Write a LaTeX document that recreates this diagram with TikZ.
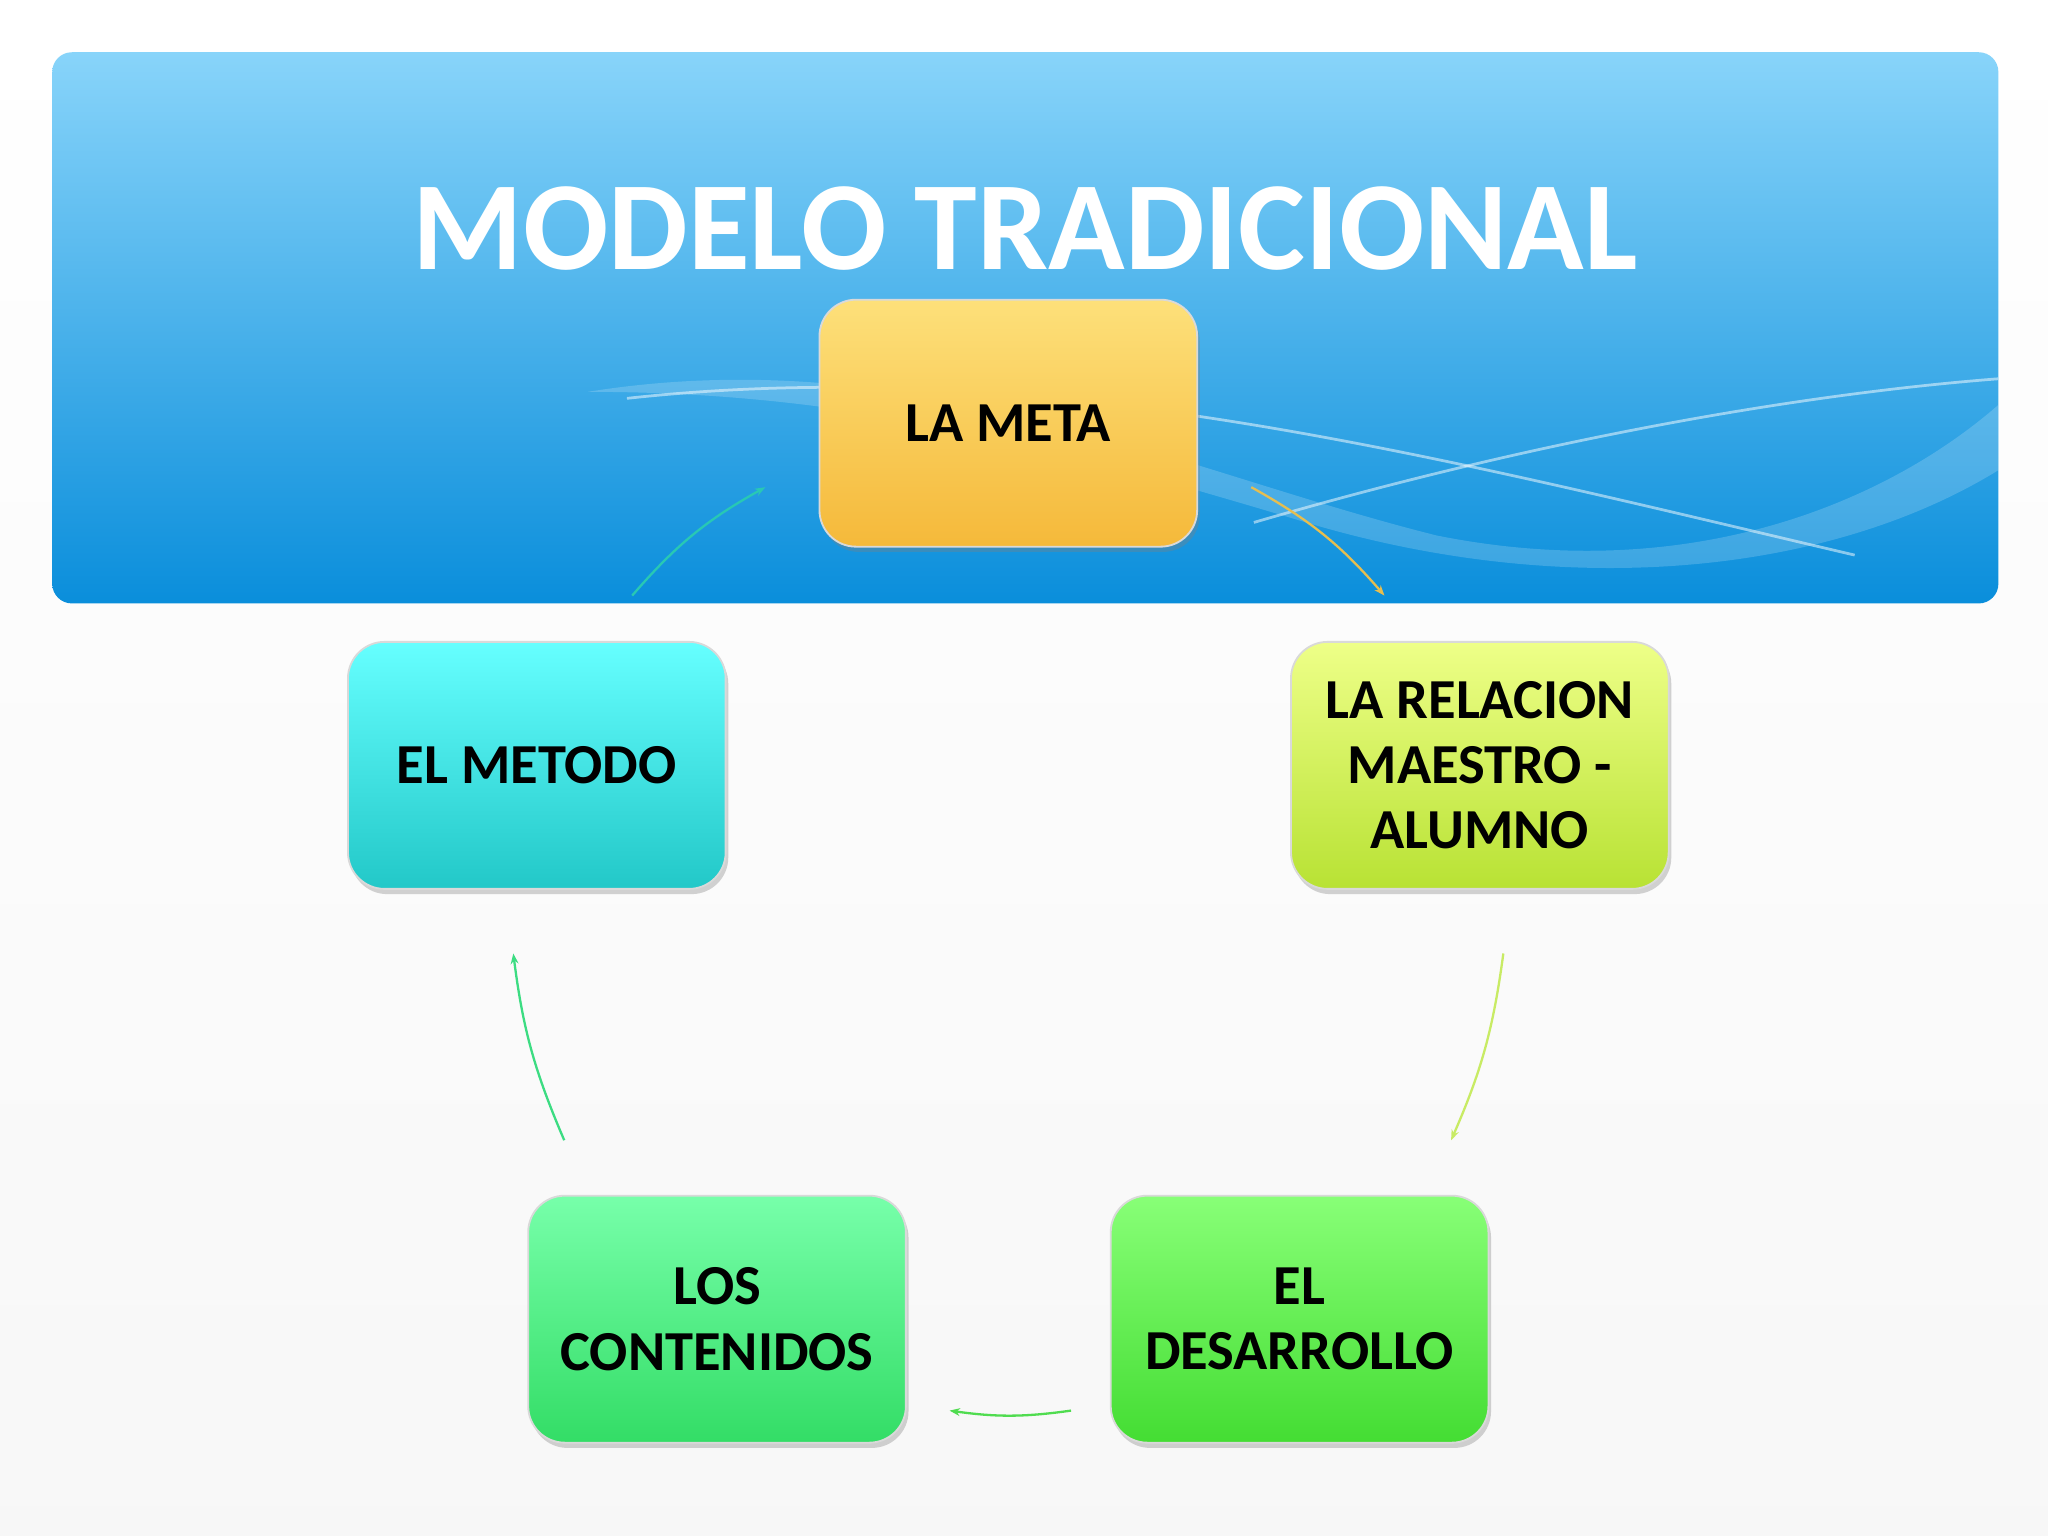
\documentclass[tikz,border=0pt]{standalone}
\usepackage{fontspec}
\setmainfont{Carlito}
\usetikzlibrary{shadows,arrows.meta}
\definecolor{hdtop}{HTML}{88D4FA}
\definecolor{hdbot}{HTML}{0A8EDB}
\tikzset{
  box/.style={rounded corners=0.28cm, minimum width=2.89cm, minimum height=1.89cm,
    align=center, font=\fontsize{12.3}{14.2}\selectfont\bfseries, text=black,
    draw=white!85!black, line width=0.4pt,
    drop shadow={shadow xshift=0.02cm, shadow yshift=-0.04cm, opacity=0.35}},
  conn/.style={-{Stealth[length=0.08cm,width=0.06cm]}, line width=0.5pt}
}
\begin{document}
\begin{tikzpicture}[x=0.01cm,y=-0.01cm]
\useasboundingbox (0,0) rectangle (1568,1176);
\shade[top color=white, bottom color=white!97!black] (0,0) rectangle (1568,1176);
% header
\shade[top color=hdtop, bottom color=hdbot, rounded corners=0.15cm] (40,40) rectangle (1530,462);
\begin{scope}
\clip[rounded corners=0.15cm] (40,40) rectangle (1530,462);
\fill[white, opacity=0.18] (450,300) .. controls (700,260) and (900,360) .. (1100,410) .. controls (1300,450) and (1450,380) .. (1530,310) -- (1530,360) .. controls (1400,440) and (1200,460) .. (1000,400) .. controls (800,340) and (650,300) .. (450,300) -- cycle;
\draw[white, opacity=0.5, line width=0.6pt] (480,305) .. controls (800,270) and (1100,350) .. (1420,425);
\draw[white, opacity=0.5, line width=0.6pt] (960,400) .. controls (1200,330) and (1400,300) .. (1530,290);
\end{scope}
\node[text=white, font=\fontsize{27.5}{32}\selectfont\bfseries] (title) at (785,175) {MODELO TRADICIONAL};
% boxes
\node[box, top color={rgb,255:red,253;green,224;blue,122}, bottom color={rgb,255:red,245;green,185;blue,58}] (meta) at (772,324) {LA META};
\node[box, top color={rgb,255:red,102;green,255;blue,255}, bottom color={rgb,255:red,34;green,200;blue,200}] (metodo) at (411,586) {EL METODO};
\node[box, top color={rgb,255:red,238;green,255;blue,136}, bottom color={rgb,255:red,184;green,226;blue,52}] (relacion) at (1133,586) {LA RELACION\\MAESTRO -\\ALUMNO};
\node[box, top color={rgb,255:red,119;green,255;blue,170}, bottom color={rgb,255:red,51;green,221;blue,102}] (contenidos) at (549,1010) {LOS\\CONTENIDOS};
\node[box, top color={rgb,255:red,136;green,255;blue,119}, bottom color={rgb,255:red,68;green,221;blue,51}] (desarrollo) at (995,1010) {EL\\DESARROLLO};
% connector ends
\coordinate (a1) at (484,456); \coordinate (a2) at (586,373);
\coordinate (b1) at (958,373); \coordinate (b2) at (1060,456);
\coordinate (c1) at (1151,730); \coordinate (c2) at (1111,873);
\coordinate (d1) at (820,1080); \coordinate (d2) at (727,1080);
\coordinate (e1) at (432,873); \coordinate (e2) at (393,730);
\draw[conn, color={rgb,255:red,40;green,200;blue,180}] (a1) to[bend left=10] (a2);
\draw[conn, color={rgb,255:red,230;green,190;blue,80}] (b1) to[bend left=10] (b2);
\draw[conn, color={rgb,255:red,200;green,235;blue,100}] (c1) to[bend left=8] (c2);
\draw[conn, color={rgb,255:red,80;green,220;blue,80}] (d1) to[bend left=8] (d2);
\draw[conn, color={rgb,255:red,60;green,220;blue,130}] (e1) to[bend left=8] (e2);
\end{tikzpicture}
\end{document}
